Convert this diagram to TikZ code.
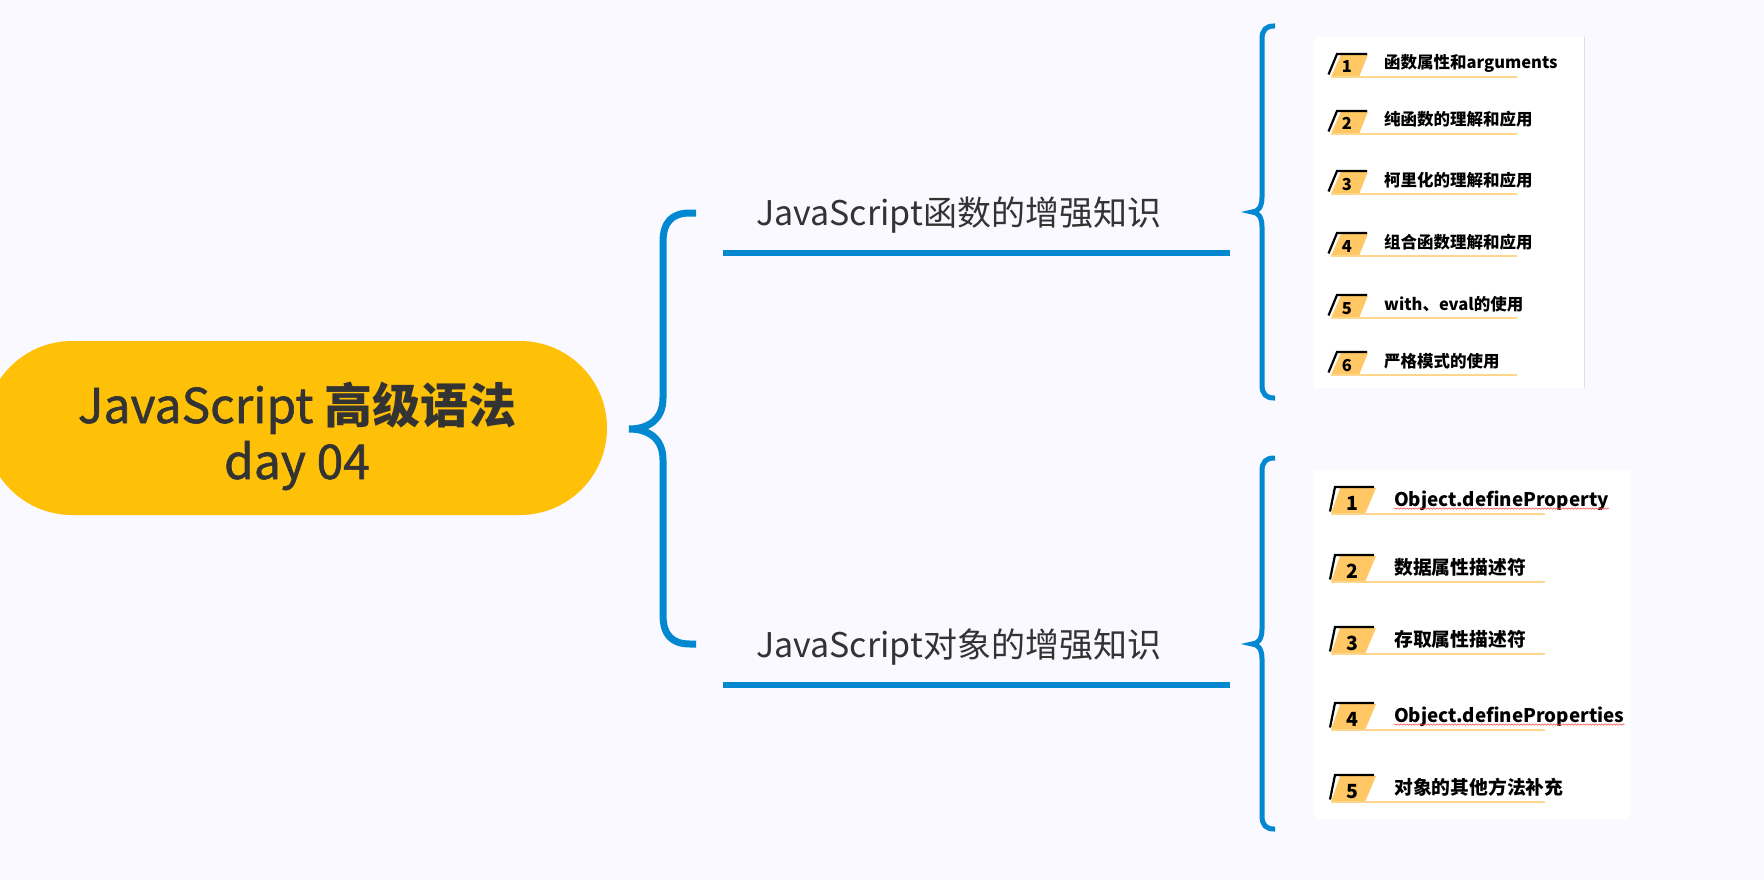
\documentclass[tikz,border=0pt]{standalone}
\usepackage{fontspec}
\newfontfamily\cjk{Noto Sans CJK SC}
\newfontfamily\cjkm{Noto Sans CJK SC}[FakeBold=1.2]
\usetikzlibrary{decorations.pathmorphing,calc}
\definecolor{bgc}{RGB}{249,249,255}
\definecolor{jsblue}{RGB}{2,136,209}
\definecolor{pillc}{RGB}{255,193,7}
\definecolor{badgec}{RGB}{255,200,100}
\definecolor{ulc}{RGB}{255,215,140}
\definecolor{darktext}{RGB}{51,51,51}
\begin{document}
\begin{tikzpicture}[x=1pt,y=-1pt,
  bigbrace/.style={draw=jsblue,line width=7pt},
  smallbrace/.style={draw=jsblue,line width=5pt},
  branchline/.style={draw=jsblue,line width=6pt},
  panel/.style={fill=white},
  uline/.style={draw=ulc,line width=1.2pt},
  badgefill/.style={fill=badgec},
  badgeedge/.style={draw=black,line width=2.2pt},
  rootfont/.style={font=\cjkm\fontsize{48}{56}\selectfont,text=darktext,inner sep=0pt,anchor=base},
  titlefont/.style={font=\cjk\fontsize{34}{40}\selectfont,text=darktext,inner sep=0pt,anchor=base west},
  labA/.style={font=\cjk\bfseries\fontsize{16.5}{20}\selectfont,text=black,inner sep=0pt,anchor=base west},
  labB/.style={font=\cjk\bfseries\fontsize{18.8}{23}\selectfont,text=black,inner sep=0pt,anchor=base west},
  numA/.style={font=\cjk\bfseries\fontsize{16.5}{20}\selectfont,text=black,inner sep=0pt,anchor=base},
  numB/.style={font=\cjk\bfseries\fontsize{19.5}{23}\selectfont,text=black,inner sep=0pt,anchor=base},
  squiggle/.style={draw=red!70,line width=0.5pt,decorate,decoration={snake,amplitude=0.7pt,segment length=3pt}}
]
\useasboundingbox (0,0) rectangle (1764,880);
\fill[bgc] (0,0) rectangle (1764,880);

% root pill
\fill[pillc,rounded corners=87pt] (-15,341) rectangle (607,515);
\node[rootfont] (root) at (297,423) {JavaScript {\cjk\bfseries 高级语法}};
\node[rootfont] (rootb) at (297,479) {day 04};

% big brace
\coordinate (BT) at (696,213);
\coordinate (BM) at (629,429);
\coordinate (BB) at (696,644);
\draw[bigbrace] (BT) -- (690,213) .. controls (672,213) and (663,222) .. (663,242) -- (663,398)
  .. controls (663,420) and (648,429) .. (BM) .. controls (648,429) and (663,438) .. (663,460)
  -- (663,615) .. controls (663,635) and (672,644) .. (690,644) -- (BB);

% branches
\node[titlefont] (b1) at (756,225) {JavaScript函数的增强知识};
\draw[branchline] (723,253) coordinate (b1l) -- (1230,253) coordinate (b1r);
\node[titlefont] (b2) at (756,657) {JavaScript对象的增强知识};
\draw[branchline] (723,685) coordinate (b2l) -- (1230,685) coordinate (b2r);

% small braces
\coordinate (ST1) at (1275,26);
\coordinate (SM1) at (1252,212);
\coordinate (SB1) at (1275,398);
\draw[smallbrace] (ST1) -- (1274,26) .. controls (1266,26) and (1262,30) .. (1262,39) -- (1262,197)
  .. controls (1262,207) and (1258,212) .. (SM1) .. controls (1258,212) and (1262,217) .. (1262,227)
  -- (1262,385) .. controls (1262,394) and (1266,398) .. (1274,398) -- (SB1);
\coordinate (ST2) at (1275,458);
\coordinate (SM2) at (1252,644);
\coordinate (SB2) at (1275,829);
\draw[smallbrace] (ST2) -- (1274,458) .. controls (1266,458) and (1262,462) .. (1262,471) -- (1262,629)
  .. controls (1262,639) and (1258,644) .. (SM2) .. controls (1258,644) and (1262,649) .. (1262,659)
  -- (1262,816) .. controls (1262,825) and (1266,829) .. (1274,829) -- (SB2);

% panels
\fill[panel] (1314,37) rectangle (1584,388);
\draw[gray!25,line width=1pt] (1584,37) -- (1584,388);
\fill[panel] (1314,470) rectangle (1630,819);

% top panel items
\foreach \u/\n/\t [count=\i] in {77/1/函数属性和arguments,134/2/纯函数的理解和应用,194/3/柯里化的理解和应用,256/4/组合函数理解和应用,318/5/with、eval的使用,375/6/严格模式的使用}{
  \fill[badgefill] (1341,\u-22.5) -- (1368,\u-22.5) -- (1359,\u) -- (1331,\u) -- cycle;
  \draw[badgeedge] (1328.5,\u-2.5) -- (1337,\u-23) -- (1367,\u-23);
  \draw[uline] (1331,\u) -- (1517,\u);
  \node[numA] (fn\i) at (1347,\u-4) {\n};
  \node[labA] (f\i) at (1384,\u-8) {\t};
}

% bottom panel items
\foreach \u/\n/\t [count=\i] in {514/1/Object.defineProperty,582/2/数据属性描述符,654/3/存取属性描述符,730/4/Object.defineProperties,802/5/对象的其他方法补充}{
  \fill[badgefill] (1340,\u-26) -- (1376,\u-26) -- (1365,\u) -- (1331,\u) -- cycle;
  \draw[badgeedge] (1330,\u-2.5) -- (1335,\u-27) -- (1374,\u-27);
  \draw[uline] (1331,\u) -- (1545,\u);
  \node[numB] (on\i) at (1352.5,\u-4) {\n};
  \node[labB] (o\i) at (1394,\u-8) {\t};
}
\draw[squiggle] ($(o1.base west)+(0,2.5)$) -- ($(o1.base east)+(0,2.5)$);
\draw[squiggle] ($(o4.base west)+(0,2.5)$) -- ($(o4.base east)+(0,2.5)$);
\end{tikzpicture}
\end{document}
